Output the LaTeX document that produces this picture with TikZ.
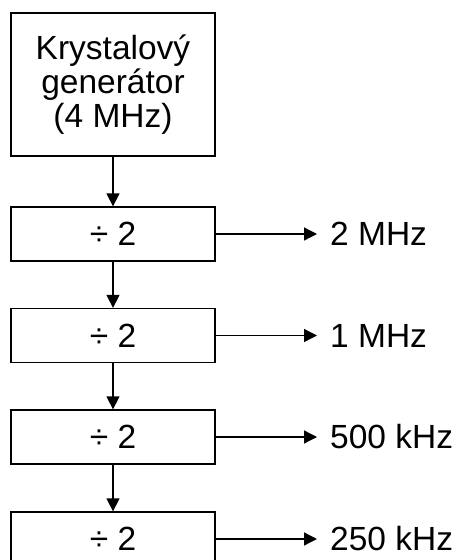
\documentclass[tikz,border=0pt]{standalone}
\usepackage{fontspec}
\setmainfont{Liberation Sans}
\usetikzlibrary{arrows.meta}
\begin{document}
\begin{tikzpicture}[x=1pt,y=-1pt,
  box/.style={draw,line width=1.3pt,minimum width=204pt,inner sep=0pt,font=\fontsize{33.5}{34}\selectfont,align=center},
  divbox/.style={box,minimum height=54pt},
  lbl/.style={anchor=west,inner sep=0pt,font=\fontsize{33.5}{34}\selectfont},
  conn/.style={line width=1.3pt,-{Triangle[length=13pt,width=13pt]}}]
\useasboundingbox (0,0) rectangle (461,560);
\node[box,minimum height=143pt] (gen) at (113,84.5) {Krystalový\\generátor\\(4 MHz)};
\node[divbox] (d1) at (113,234) {÷ 2};
\node[divbox] (d2) at (113,335.5) {÷ 2};
\node[divbox] (d3) at (113,437) {÷ 2};
\node[divbox] (d4) at (113,539) {÷ 2};
\node[lbl] (o1) at (330,234) {2 MHz};
\node[lbl] (o2) at (330,335.5) {1 MHz};
\node[lbl] (o3) at (330,437) {500 kHz};
\node[lbl] (o4) at (330,539) {250 kHz};
\draw[conn] (gen) -- (d1);
\draw[conn] (d1) -- (d2);
\draw[conn] (d2) -- (d3);
\draw[conn] (d3) -- (d4);
\foreach \i in {1,2,3,4}{
  \draw[conn] (d\i.east) -- ([xshift=-13pt]o\i.west);
}
\end{tikzpicture}
\end{document}
